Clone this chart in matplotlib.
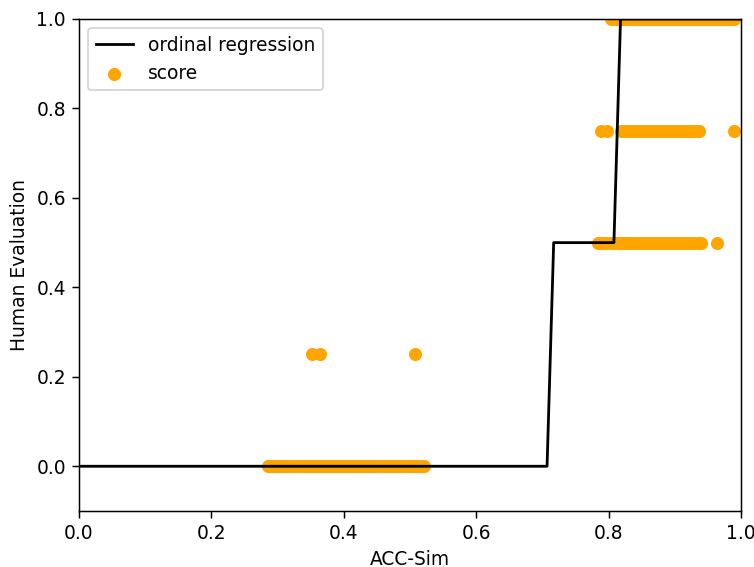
import numpy as np
import matplotlib.pyplot as plt

# ordinal regression prediction (step curve)
reg_x = [0.0, 0.707, 0.717, 0.808, 0.818, 1.0]
reg_y = [0.0, 0.0, 0.5, 0.5, 1.0, 1.0]

# human scores vs ACC-Sim
acc_0 = [0.286, 0.289, 0.292, 0.296, 0.300, 0.305, 0.309, 0.314, 0.320, 0.327,
         0.333, 0.336, 0.340, 0.344, 0.347, 0.351, 0.355, 0.358, 0.362, 0.366,
         0.369, 0.373, 0.377, 0.381, 0.384, 0.388, 0.392, 0.396, 0.399, 0.403,
         0.407, 0.411, 0.415, 0.419, 0.423, 0.428, 0.432, 0.437, 0.441, 0.446,
         0.451, 0.455, 0.460, 0.465, 0.470, 0.474, 0.479, 0.484, 0.489, 0.494,
         0.498, 0.503, 0.508, 0.512, 0.517, 0.521]
acc_025 = [0.352, 0.364, 0.507]
acc_05 = [0.784, 0.790, 0.796, 0.803, 0.809, 0.815, 0.821, 0.827, 0.833, 0.839,
          0.845, 0.851, 0.857, 0.863, 0.869, 0.875, 0.881, 0.887, 0.893, 0.899,
          0.905, 0.911, 0.917, 0.923, 0.929, 0.935, 0.940, 0.963]
acc_075 = [0.789, 0.798, 0.819, 0.825, 0.831, 0.837, 0.843, 0.849, 0.855, 0.861,
           0.867, 0.873, 0.879, 0.885, 0.891, 0.897, 0.903, 0.909, 0.915, 0.921,
           0.927, 0.933, 0.937, 0.990]
acc_1 = [0.804, 0.810, 0.816, 0.822, 0.828, 0.834, 0.840, 0.846, 0.852, 0.858,
         0.864, 0.870, 0.876, 0.882, 0.888, 0.894, 0.900, 0.906, 0.912, 0.918,
         0.924, 0.930, 0.936, 0.942, 0.948, 0.954, 0.960, 0.966, 0.972, 0.978,
         0.984, 0.990]

xs = acc_0 + acc_025 + acc_05 + acc_075 + acc_1
ys = ([0.0] * len(acc_0) + [0.25] * len(acc_025) + [0.5] * len(acc_05)
      + [0.75] * len(acc_075) + [1.0] * len(acc_1))

dpi = 134
fig = plt.figure(figsize=(754 / dpi, 567 / dpi), dpi=dpi)
ax = fig.add_axes([0.1048, 0.0988, 0.878, 0.8677])

ax.plot(reg_x, reg_y, color='black', label='ordinal regression', zorder=3)
ax.scatter(xs, ys, color='orange', label='score', zorder=2)

ax.set_xlim(0, 1)
ax.set_ylim(-0.1, 1.0)
ax.set_xlabel('ACC-Sim')
ax.set_ylabel('Human Evaluation')
ax.legend(loc='upper left')

plt.savefig('out.png', dpi=dpi)
